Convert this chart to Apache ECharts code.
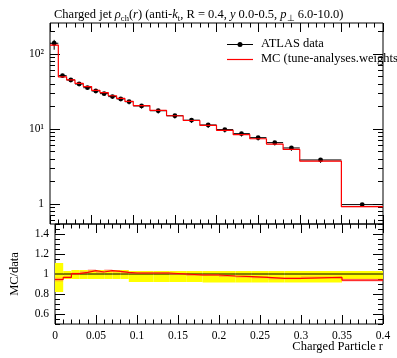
<!DOCTYPE html>
<html><head><meta charset="utf-8">
<script src="https://cdn.jsdelivr.net/npm/echarts@6/dist/echarts.min.js"></script>
<style>html,body{margin:0;padding:0;background:#fff}#c{width:397px;height:358px}</style>
</head><body><div id="c"></div>
<script>
// ---- data ----
const binEdges = [0,0.01,0.02,0.03,0.04,0.05,0.06,0.07,0.08,0.09,0.1,0.12,0.14,0.16,0.18,0.2,0.22,0.24,0.26,0.28,0.3,0.35,0.4];
const dataValues = [139,51.4,45,39.8,35.5,32.1,29.6,27,25.1,23.1,20.3,17.5,15.0,13.1,11.3,9.8,8.66,7.66,6.57,5.58,3.86,0.98];
const dataErrUp   = [0.11,0.03,0.04,0.04,0.04,0.04,0.04,0.04,0.04,0.03,0.03,0.03,0.03,0.03,0.03,0.03,0.03,0.03,0.03,0.03,0.03,0.03];
const dataErrDown = [0.18,0.05,0.05,0.05,0.05,0.05,0.05,0.05,0.05,0.08,0.08,0.08,0.08,0.08,0.085,0.085,0.085,0.085,0.085,0.085,0.085,0.05];
const mcRatio = [0.945,0.966,1.003,1.017,1.034,1.02,1.034,1.027,1.017,1.01,1.01,1.01,1.0,0.99,0.99,0.98,0.973,0.966,0.956,0.956,0.966,0.938];
const mcErr = [0.02,0.01,0.01,0.01,0.012,0.01,0.012,0.01,0.01,0.01,0.01,0.01,0.01,0.01,0.01,0.01,0.01,0.01,0.01,0.01,0.01,0.015];
const xTickValues = [0,0.05,0.1,0.15,0.2,0.25,0.3,0.35,0.4];
const mainMajorTicks = [1,10,100];
const mainMinorTicks = [0.6,0.7,0.8,0.9,2,3,4,5,6,7,8,9,20,30,40,50,60,70,80,90,200];
const ratioMajorTicks = [0.6,0.8,1,1.2,1.4];
const ratioMinorTicks = [0.5,0.55,0.65,0.7,0.75,0.85,0.9,0.95,1.05,1.1,1.15,1.25,1.3,1.35,1.45,1.5];

// ---- derived tables ----
const n = dataValues.length;
const mcValues = dataValues.map((v,i)=>v*mcRatio[i]);
const dataRows = dataValues.map((v,i)=>[binEdges[i],binEdges[i+1],v,v*(1-dataErrDown[i]),v*(1+dataErrUp[i])]);
const mcBandRows = mcValues.map((v,i)=>[binEdges[i],binEdges[i+1],v*(1-mcErr[i]),v*(1+mcErr[i])]);
const stepRows = (vals)=>{const r=vals.map((v,i)=>[binEdges[i],v]); r.push([binEdges[n],vals[n-1]]); return r;};
const ratioBandRows = dataValues.map((v,i)=>[binEdges[i],binEdges[i+1],1-dataErrDown[i],1+dataErrUp[i]]);
const ratioOneRows = dataValues.map((v,i)=>[binEdges[i],binEdges[i+1],1]);
const mcRatioBandRows = mcRatio.map((r,i)=>[binEdges[i],binEdges[i+1],r*(1-mcErr[i]),r*(1+mcErr[i])]);

const FONT = 'Liberation Serif';
const L = 50, R = 383, T = 23, MB = 224, RB = 324, W = 397;

function xAx(gi, pos, labels){
  return {type:'value', gridIndex:gi, position:pos, min:0, max:0.4, interval:0.05,
    axisLine:{show:false}, splitLine:{show:false},
    axisTick:{show:true, inside:true, length:9, lineStyle:{color:'#000',width:1}},
    minorTick:{show:true, splitNumber:5, length:4.5, lineStyle:{color:'#000',width:1}},
    axisLabel:{show:labels, color:'#000', fontFamily:FONT, fontSize:11.5, margin:6,
      customValues: xTickValues}};
}
function yAx(gi, pos, type, min, max, ticks, len, labels, fmt, extra){
  const a = {type:type, gridIndex:gi, position:pos, min:min, max:max,
    axisLine:{show:false}, splitLine:{show:false},
    axisTick:{show:true, inside:true, length:len, customValues:ticks, lineStyle:{color:'#000',width:1}},
    minorTick:{show:false},
    axisLabel:{show:labels, customValues:ticks, color:'#000', fontFamily:FONT, fontSize:11.5, margin:6, formatter:fmt}};
  if (type==='log') a.logBase = 10;
  return Object.assign(a, extra||{});
}
const mainFmt = v => (Math.abs(v-1)<1e-9?'1':(Math.abs(v-10)<1e-6?'10¹':'10²'));
const ratioFmt = v => String(Math.round(v*10)/10);

const option = {
  animation:false,
  backgroundColor:'#fff',
  title:{
    left:49, top:2,
    text:'{n|Charged jet }{i|ρ}{s|ch}{n|(}{i|r}{n|) (anti-}{i|k}{s|t}{n|, R = 0.4, }{i|y}{n| 0.0-0.5, }{i|p}{s|⊥}{n| 6.0-10.0)}',
    textStyle:{fontWeight:'normal', rich:{
      n:{fontFamily:FONT,fontSize:12.5,fontWeight:'normal',color:'#000',lineHeight:16,verticalAlign:'middle'},
      i:{fontFamily:FONT,fontSize:12.5,fontWeight:'normal',fontStyle:'italic',color:'#000',lineHeight:16,verticalAlign:'middle'},
      s:{fontFamily:FONT,fontSize:8.5,fontWeight:'normal',color:'#000',lineHeight:16,verticalAlign:'bottom'}
    }}
  },
  grid:[
    {left:L, width:R-L, top:T, height:MB-T, show:true, borderColor:'#000', borderWidth:1, backgroundColor:'transparent'},
    {left:L, width:R-L, top:MB, height:RB-MB, show:true, borderColor:'#000', borderWidth:1, backgroundColor:'transparent'}
  ],
  xAxis:[ xAx(0,'bottom',false), xAx(0,'top',false), xAx(1,'bottom',true), xAx(1,'top',false) ],
  yAxis:[
    yAx(0,'left','log',0.54,259,mainMajorTicks,10,true,mainFmt),
    yAx(0,'left','log',0.54,259,mainMinorTicks,5,false,null),
    yAx(0,'right','log',0.54,259,mainMajorTicks,10,false,null),
    yAx(0,'right','log',0.54,259,mainMinorTicks,5,false,null),
    yAx(1,'left','value',0.5,1.5,ratioMajorTicks,10,true,ratioFmt,
        {name:'MC/data', nameLocation:'middle', nameGap:34, nameRotate:90,
         nameTextStyle:{color:'#000',fontFamily:FONT,fontSize:12.5}}),
    yAx(1,'left','value',0.5,1.5,ratioMinorTicks,5,false,null),
    yAx(1,'right','value',0.5,1.5,ratioMajorTicks,10,false,null),
    yAx(1,'right','value',0.5,1.5,ratioMinorTicks,5,false,null)
  ],
  graphic:[
    {type:'line', z:10, shape:{x1:227,y1:44.5,x2:253,y2:44.5}, style:{stroke:'#000',lineWidth:1}},
    {type:'circle', z:10, shape:{cx:240,cy:44.5,r:2.5}, style:{fill:'#000'}},
    {type:'text', z:10, left:261, top:37, style:{text:'ATLAS data', font:'12.5px "Liberation Serif"', fill:'#000'}},
    {type:'line', z:10, shape:{x1:227,y1:59.5,x2:253,y2:59.5}, style:{stroke:'#ff0000',lineWidth:1.2}},
    {type:'text', z:10, left:261, top:52, style:{text:'MC (tune-analyses.weights)', font:'12.5px "Liberation Serif"', fill:'#000'}},
    {type:'text', z:10, right:W-R, top:340, style:{text:'Charged Particle r', font:'12.5px "Liberation Serif"', fill:'#000'}}
  ],
  series:[
    { // MC band main
      type:'custom', xAxisIndex:0, yAxisIndex:0, clip:true, data:mcBandRows,
      encode:{x:[0,1], y:[2,3]},
      renderItem:(p,api)=>{const a=api.coord([api.value(0),api.value(3)]), b=api.coord([api.value(1),api.value(2)]);
        return {type:'rect', shape:{x:a[0],y:a[1],width:b[0]-a[0],height:b[1]-a[1]}, style:{fill:'rgba(255,90,90,0.45)'}};}
    },
    { // MC step line main
      type:'line', xAxisIndex:0, yAxisIndex:0, step:'end', data:stepRows(mcValues), symbol:'none',
      lineStyle:{color:'#f00', width:1.2}, clip:true
    },
    { // data points main
      type:'custom', xAxisIndex:0, yAxisIndex:0, clip:true, data:dataRows,
      encode:{x:[0,1], y:[2,3,4]},
      renderItem:(p,api)=>{
        const xl=api.value(0), xh=api.value(1), v=api.value(2), xm=(xl+xh)/2;
        const a=api.coord([xl,v]), b=api.coord([xh,v]), lo=api.coord([xm,api.value(3)]), hi=api.coord([xm,api.value(4)]), c=api.coord([xm,v]);
        return {type:'group', children:[
          {type:'line', shape:{x1:a[0],y1:a[1],x2:b[0],y2:b[1]}, style:{stroke:'#000',lineWidth:1}},
          {type:'line', shape:{x1:lo[0],y1:lo[1],x2:hi[0],y2:hi[1]}, style:{stroke:'#000',lineWidth:1}},
          {type:'circle', shape:{cx:c[0],cy:c[1],r:2.4}, style:{fill:'#000'}}
        ]};
      }
    },
    { // ratio yellow band
      type:'custom', xAxisIndex:2, yAxisIndex:4, clip:true, data:ratioBandRows,
      encode:{x:[0,1], y:[2,3]},
      renderItem:(p,api)=>{const a=api.coord([api.value(0),api.value(3)]), b=api.coord([api.value(1),api.value(2)]);
        return {type:'rect', shape:{x:a[0],y:a[1],width:b[0]-a[0],height:b[1]-a[1]}, style:{fill:'#ffff00'}};}
    },
    { // data ratio line at 1
      type:'custom', xAxisIndex:2, yAxisIndex:4, clip:true, data:ratioOneRows,
      encode:{x:[0,1], y:[2]},
      renderItem:(p,api)=>{const a=api.coord([api.value(0),api.value(2)]), b=api.coord([api.value(1),api.value(2)]);
        return {type:'line', shape:{x1:a[0],y1:a[1],x2:b[0],y2:b[1]}, style:{stroke:'#000',lineWidth:1}};}
    },
    { // MC ratio band
      type:'custom', xAxisIndex:2, yAxisIndex:4, clip:true, data:mcRatioBandRows,
      encode:{x:[0,1], y:[2,3]},
      renderItem:(p,api)=>{const a=api.coord([api.value(0),api.value(3)]), b=api.coord([api.value(1),api.value(2)]);
        return {type:'rect', shape:{x:a[0],y:a[1],width:b[0]-a[0],height:b[1]-a[1]}, style:{fill:'rgba(255,90,90,0.45)'}};}
    },
    { // MC ratio step line
      type:'line', xAxisIndex:2, yAxisIndex:4, step:'end', data:stepRows(mcRatio), symbol:'none',
      lineStyle:{color:'#f00', width:1.2}, clip:true
    }
  ]
};
const chart = echarts.init(document.getElementById('c'), null, {renderer:'canvas'});
chart.setOption(option);
</script></body></html>
